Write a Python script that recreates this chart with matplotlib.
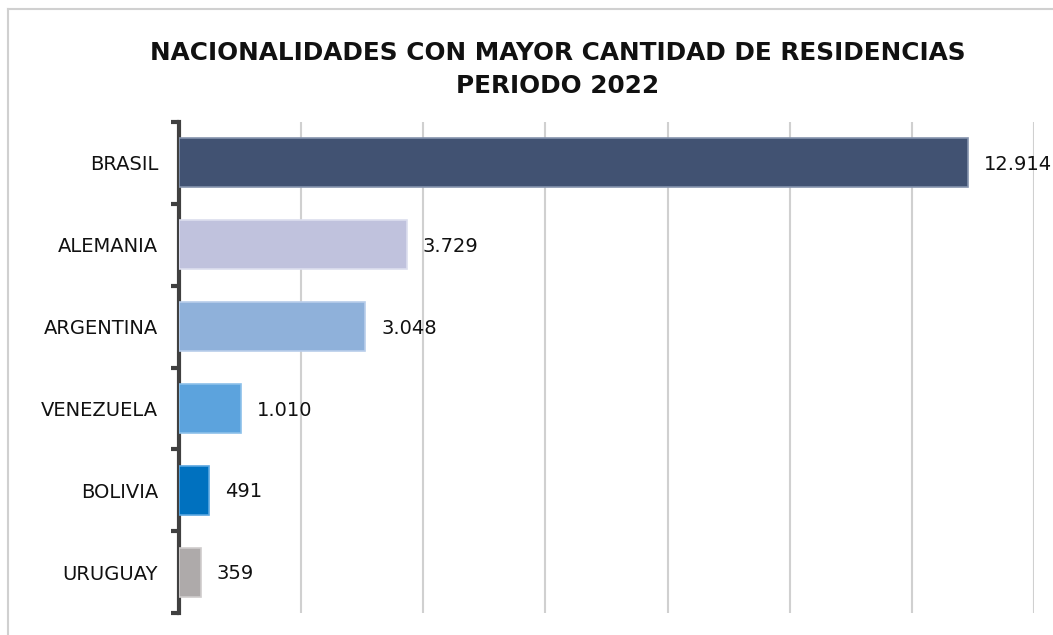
import matplotlib
matplotlib.use("Agg")
from matplotlib import pyplot as plt
from matplotlib.lines import Line2D
import numpy as np

countries = ["BRASIL", "ALEMANIA", "ARGENTINA", "VENEZUELA", "BOLIVIA", "URUGUAY"]
residencias = [12914, 3729, 3048, 1010, 491, 359]
colors = ["#415272", "#c0c2dd", "#8fb1da", "#5ca3dd", "#0071bf", "#aeaaaa"]
edges = ["#8593ad", "#dcdeee", "#b8cdea", "#8cc0ea", "#5aa6e0", "#cfcccc"]

title1 = "NACIONALIDADES CON MAYOR CANTIDAD DE RESIDENCIAS"
title2 = "PERIODO 2022"


def fmt(v):
    return f"{v:,}".replace(",", ".")


fig = plt.figure(figsize=(10.53, 6.35), dpi=100)
ax = fig.add_axes([179 / 1053, 1 - 613 / 635, (1034 - 179) / 1053, (613 - 122) / 635])

y = np.arange(len(countries))
ax.barh(y, residencias, height=0.6, color=colors, edgecolor=edges, linewidth=1.2, zorder=3)
for yi, v in zip(y, residencias):
    ax.text(v + 260, yi + 0.02, fmt(v), va="center", ha="left", fontsize=14,
            fontweight="medium", color="#111111")

ax.set_xlim(0, 14000)
ax.set_ylim(len(countries) - 0.5, -0.5)
ax.set_xticks(np.arange(0, 14001, 2000))
ax.tick_params(axis="x", length=0, labelbottom=False)
ax.grid(axis="x", color="#d0d0d0", linewidth=1.5, zorder=0)

ax.set_yticks(y)
ax.set_yticklabels(countries, fontsize=14, color="#111111")
ax.set_yticks(np.arange(-0.5, len(countries)), minor=True)
ax.tick_params(axis="y", which="major", length=0, pad=15)
ax.tick_params(axis="y", which="minor", length=6, width=3, color="#404040")

for s in ["top", "right", "bottom"]:
    ax.spines[s].set_visible(False)
ax.spines["left"].set_color("#404040")
ax.spines["left"].set_linewidth(3)

fig.text(558 / 1053, 1 - 53 / 635, title1, ha="center", va="center",
         fontsize=17.8, fontweight="bold", color="#111111")
fig.text(558 / 1053, 1 - 86 / 635, title2, ha="center", va="center",
         fontsize=17.8, fontweight="bold", color="#111111")

# outer frame (left and top edges visible)
fig.add_artist(Line2D([8 / 1053, 8 / 1053], [0, 1 - 9 / 635], color="#d0d0d0", lw=1.5))
fig.add_artist(Line2D([8 / 1053, 1], [1 - 9 / 635, 1 - 9 / 635], color="#d0d0d0", lw=1.5))

fig.savefig("out.png", dpi=100)
